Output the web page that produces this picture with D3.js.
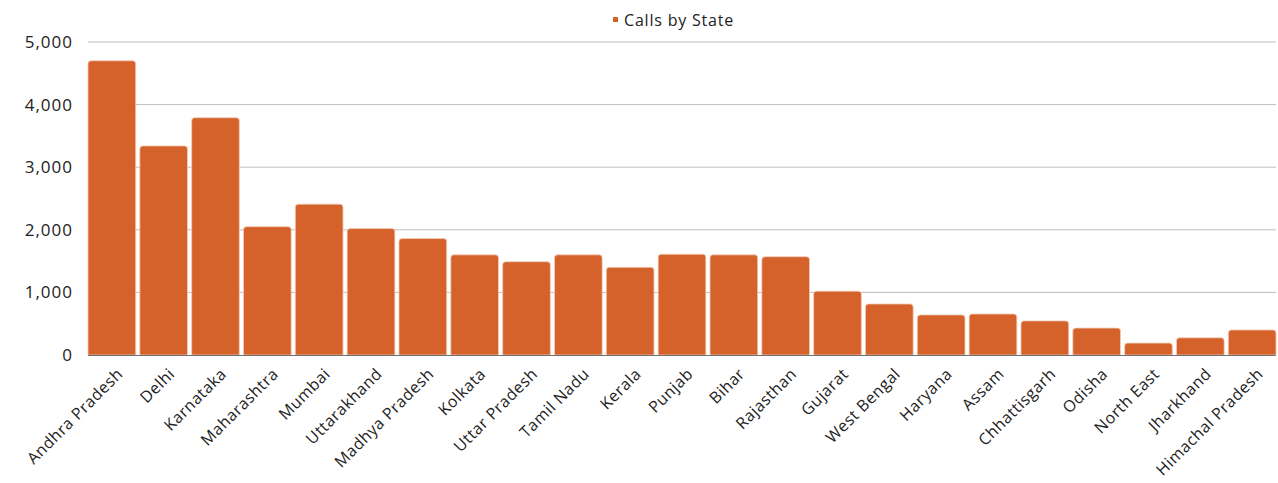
<!DOCTYPE html>
<html><head><meta charset="utf-8">
<script src="https://cdn.jsdelivr.net/npm/d3@7"></script>
<style>body{margin:0;background:#fff}text{font-family:"Open Sans",sans-serif;fill:#222}</style>
</head><body><svg id="c" width="1278" height="483"></svg>
<script>
const categories = ["Andhra Pradesh","Delhi","Karnataka","Maharashtra","Mumbai","Uttarakhand","Madhya Pradesh","Kolkata","Uttar Pradesh","Tamil Nadu","Kerala","Punjab","Bihar","Rajasthan","Gujarat","West Bengal","Haryana","Assam","Chhattisgarh","Odisha","North East","Jharkhand","Himachal Pradesh"];
const values = [4700,3340,3790,2050,2410,2020,1860,1600,1490,1600,1400,1610,1600,1570,1020,815,640,655,545,430,190,275,400];
const yTicks = [0,1000,2000,3000,4000,5000];
const seriesName = "Calls by State";

const svg = d3.select("#c");
const color = "#D5622A";
const font = "'Open Sans', sans-serif";
const x = d3.scaleBand().domain(categories).range([88,1276]).paddingInner(0.08).paddingOuter(0);
const y = d3.scaleLinear().domain([0,5000]).range([355,42]);

const grid = svg.append("g");
yTicks.forEach(t=>{
  if(t===0) return;
  grid.append("line").attr("x1",88).attr("x2",1276).attr("y1",y(t)).attr("y2",y(t)).attr("stroke","#bfbfbf").attr("stroke-width",1);
});
const yAxis = d3.axisLeft(y).tickValues(yTicks).tickFormat(d3.format(",")).tickSize(0).tickPadding(15);
const gy = svg.append("g").attr("transform","translate(88,0)").call(yAxis);
gy.select(".domain").remove();
gy.selectAll("text").style("font-size","17px").style("letter-spacing","1px").attr("fill","#222").attr("font-family",font);

const r = 3;
svg.append("g").selectAll("path").data(values).join("path")
  .attr("d",(v,i)=>{
    const x0 = x(categories[i]), w = x.bandwidth(), y0 = y(v), yb = y(0);
    return `M${x0},${yb}V${y0+r}Q${x0},${y0} ${x0+r},${y0}H${x0+w-r}Q${x0+w},${y0} ${x0+w},${y0+r}V${yb}Z`;
  })
  .attr("fill",color).attr("stroke","#f3cdb8").attr("stroke-width",0.8);

svg.append("line").attr("x1",88).attr("x2",1276).attr("y1",y(0)+0.5).attr("y2",y(0)+0.5).attr("stroke","#707070").attr("stroke-width",1);

const xAxis = d3.axisBottom(x).tickSize(0).tickPadding(0);
const gx = svg.append("g").attr("transform","translate(0,355)").call(xAxis);
gx.select(".domain").remove();
gx.selectAll("text")
  .style("font-size","16px").style("letter-spacing","0.5px").attr("fill","#222").attr("font-family",font)
  .attr("text-anchor","end").attr("dy","0")
  .attr("transform","translate(12,20) rotate(-45)");

const lg = svg.append("g");
lg.append("rect").attr("x",613).attr("y",17).attr("width",5).attr("height",5).attr("fill",color);
lg.append("text").attr("x",624).attr("y",25.5).style("font-size","16px").style("letter-spacing","0.8px").attr("font-family",font).text(seriesName);
</script></body></html>
